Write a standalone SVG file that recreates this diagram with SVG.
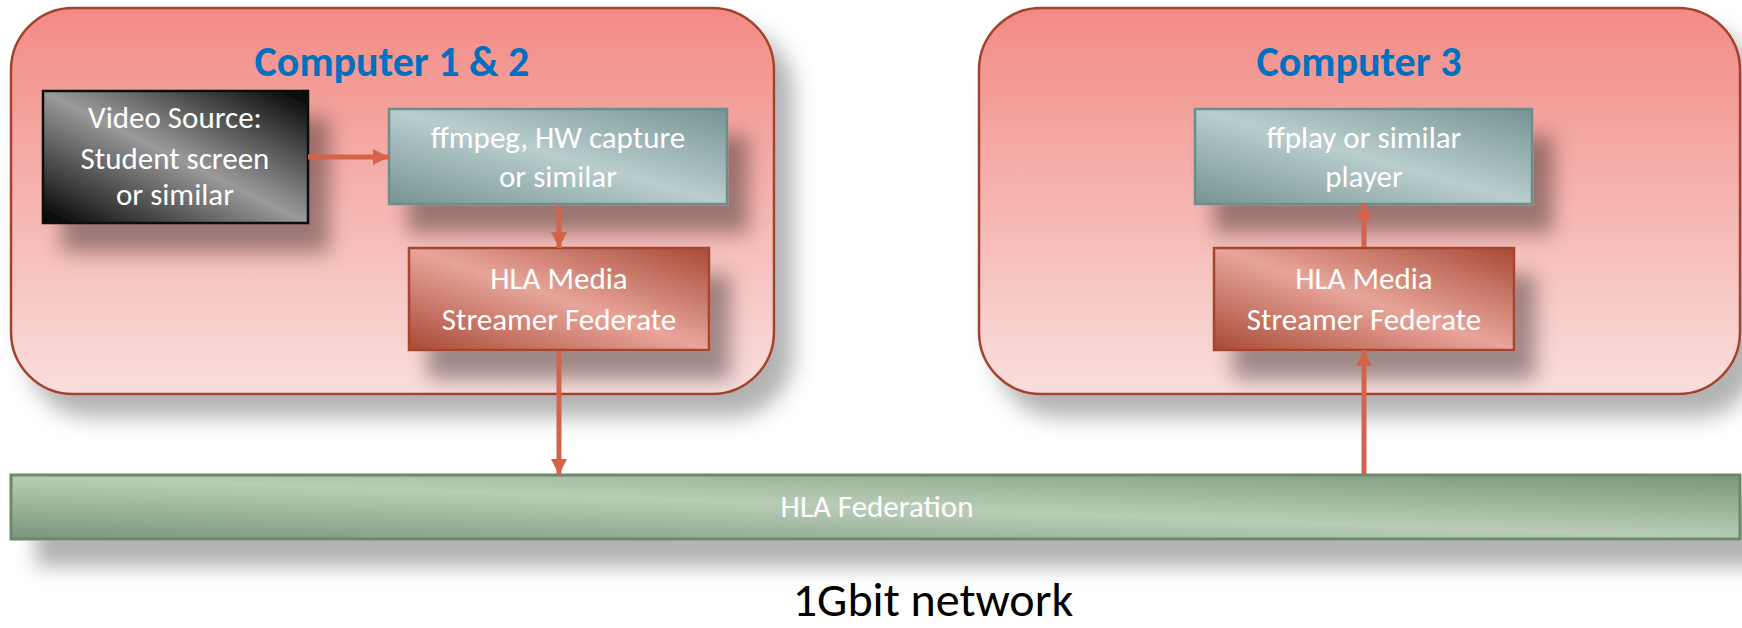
<svg xmlns="http://www.w3.org/2000/svg" width="1742" height="628" viewBox="0 0 1742 628">
  <defs>
    <style>
      .txt { font-family: Carlito, "Liberation Sans Narrow", "Liberation Sans", sans-serif; }
      .title { font-size: 42px; font-weight: bold; fill: #0070C0; text-anchor: middle; }
      .label { font-size: 31px; fill: #FFFFFF; text-anchor: middle; }
      .caption { font-size: 48px; fill: #000000; text-anchor: middle; }
      .container { fill: url(#gContainer); stroke: #A3432D; stroke-width: 2.5; }
      .box-red { fill: url(#gRed); stroke: #A5452F; stroke-width: 2.5; }
      .box-teal { fill: url(#gTeal); stroke: #6D8C8C; stroke-width: 2.5; }
      .box-black { fill: url(#gBlack); stroke: #111111; stroke-width: 2.5; }
      .bar-green { fill: url(#gGreen); stroke: #6B8A69; stroke-width: 3; }
      .arrow { stroke: #D5634B; stroke-width: 5; fill: none; marker-end: url(#head); }
    </style>
    <linearGradient id="gContainer" x1="0" y1="0" x2="0" y2="1">
      <stop offset="0" stop-color="#F28B84"/>
      <stop offset="1" stop-color="#F9DEDC"/>
    </linearGradient>
    <linearGradient id="gRed" x1="0" y1="1" x2="1" y2="0">
      <stop offset="0" stop-color="#A84A36"/>
      <stop offset="0.5" stop-color="#E8A59A"/>
      <stop offset="1" stop-color="#A84A36"/>
    </linearGradient>
    <linearGradient id="gTeal" x1="0" y1="1" x2="1" y2="0">
      <stop offset="0" stop-color="#769393"/>
      <stop offset="0.5" stop-color="#B9CDCD"/>
      <stop offset="1" stop-color="#769393"/>
    </linearGradient>
    <linearGradient id="gBlack" x1="0" y1="1" x2="1" y2="0">
      <stop offset="0" stop-color="#000000"/>
      <stop offset="0.5" stop-color="#9A9A9A"/>
      <stop offset="1" stop-color="#000000"/>
    </linearGradient>
    <linearGradient id="gGreen" x1="0" y1="1" x2="1" y2="0">
      <stop offset="0" stop-color="#7A967A"/>
      <stop offset="0.5" stop-color="#B9CDB6"/>
      <stop offset="1" stop-color="#7A967A"/>
    </linearGradient>
    <filter id="shadowBig" x="-10%" y="-10%" width="130%" height="140%">
      <feGaussianBlur in="SourceAlpha" stdDeviation="11"/>
      <feOffset dx="18" dy="22" result="b"/>
      <feFlood flood-color="#000000" flood-opacity="0.3"/>
      <feComposite in2="b" operator="in"/>
      <feMerge><feMergeNode/><feMergeNode in="SourceGraphic"/></feMerge>
    </filter>
    <filter id="shadowBox" x="-20%" y="-20%" width="150%" height="180%">
      <feGaussianBlur in="SourceAlpha" stdDeviation="10"/>
      <feOffset dx="20" dy="28" result="b"/>
      <feFlood flood-color="#000000" flood-opacity="0.36"/>
      <feComposite in2="b" operator="in"/>
      <feMerge><feMergeNode/><feMergeNode in="SourceGraphic"/></feMerge>
    </filter>
    <filter id="shadowBar" x="-5%" y="-20%" width="110%" height="200%">
      <feGaussianBlur in="SourceAlpha" stdDeviation="10"/>
      <feOffset dx="26" dy="26" result="b"/>
      <feFlood flood-color="#000000" flood-opacity="0.3"/>
      <feComposite in2="b" operator="in"/>
      <feMerge><feMergeNode/><feMergeNode in="SourceGraphic"/></feMerge>
    </filter>
    <marker id="head" viewBox="0 0 16 16" refX="16" refY="8" markerWidth="16" markerHeight="16" markerUnits="userSpaceOnUse" orient="auto">
      <path d="M0,0 L16,8 L0,16 Z" fill="#D5634B"/>
    </marker>
  </defs>

  <rect width="1742" height="628" fill="#FFFFFF"/>

  <!-- Computer 1 & 2 -->
  <g id="computer12">
    <rect class="container" x="11" y="8" width="763" height="386" rx="62" ry="62" filter="url(#shadowBig)"/>
    <text class="txt title" x="392" y="76">Computer 1 &amp; 2</text>
  </g>

  <!-- Computer 3 -->
  <g id="computer3">
    <rect class="container" x="979" y="8" width="761" height="386" rx="62" ry="62" filter="url(#shadowBig)"/>
    <text class="txt title" x="1359" y="76">Computer 3</text>
  </g>

  <g id="videoSource">
    <rect class="box-black" x="43" y="91" width="265" height="132" filter="url(#shadowBox)"/>
    <text class="txt label" x="175" y="128">Video Source:</text>
    <text class="txt label" x="175" y="169">Student screen</text>
    <text class="txt label" x="175" y="205">or similar</text>
  </g>

  <g id="ffmpeg">
    <rect class="box-teal" x="389" y="109" width="338" height="95" filter="url(#shadowBox)"/>
    <text class="txt label" x="558" y="148">ffmpeg, HW capture</text>
    <text class="txt label" x="558" y="187">or similar</text>
  </g>

  <g id="streamerLeft">
    <rect class="box-red" x="409" y="248" width="300" height="102" filter="url(#shadowBox)"/>
    <text class="txt label" x="559" y="289">HLA Media</text>
    <text class="txt label" x="559" y="330">Streamer Federate</text>
  </g>

  <g id="ffplay">
    <rect class="box-teal" x="1195" y="109" width="337" height="95" filter="url(#shadowBox)"/>
    <text class="txt label" x="1364" y="148">ffplay or similar</text>
    <text class="txt label" x="1364" y="187">player</text>
  </g>

  <g id="streamerRight">
    <rect class="box-red" x="1214" y="248" width="300" height="102" filter="url(#shadowBox)"/>
    <text class="txt label" x="1364" y="289">HLA Media</text>
    <text class="txt label" x="1364" y="330">Streamer Federate</text>
  </g>

  <g id="federation">
    <rect class="bar-green" x="11" y="475" width="1729" height="64" filter="url(#shadowBar)"/>
    <text class="txt label" x="877" y="517">HLA Federation</text>
  </g>

  <g id="connectors">
    <line class="arrow" x1="308" y1="157" x2="389" y2="157"/>
    <line class="arrow" x1="559" y1="205" x2="559" y2="248"/>
    <line class="arrow" x1="559" y1="351" x2="559" y2="475"/>
    <line class="arrow" x1="1364" y1="474" x2="1364" y2="350"/>
    <line class="arrow" x1="1364" y1="247" x2="1364" y2="204"/>
  </g>

  <text id="networkCaption" class="txt caption" x="933" y="616">1Gbit network</text>
</svg>
